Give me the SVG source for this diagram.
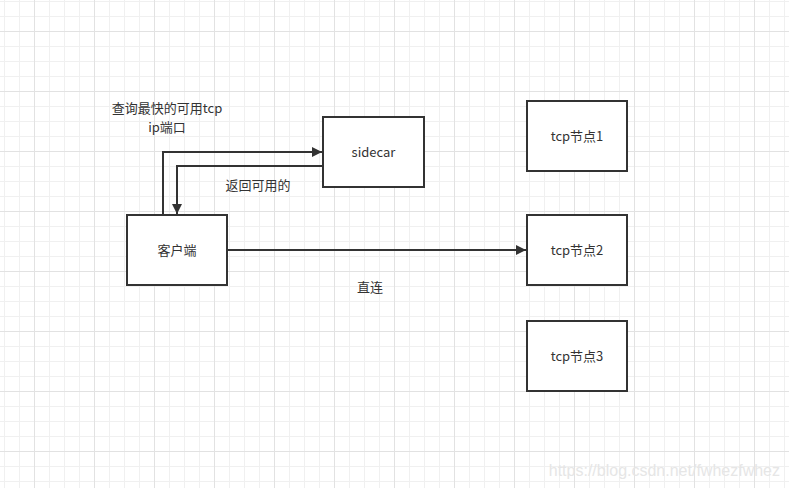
<svg xmlns="http://www.w3.org/2000/svg" width="789" height="488" viewBox="0 0 789 488">
<defs>
<pattern id="minor" x="4" y="1" width="15" height="15" patternUnits="userSpaceOnUse">
<path d="M0 0.5H15M0.5 0V15" fill="none" stroke="#f0f0f0" stroke-width="1"/>
</pattern>
<pattern id="major" x="34" y="31" width="60" height="60" patternUnits="userSpaceOnUse">
<path d="M0 0.5H60M0.5 0V60" fill="none" stroke="#e2e2e2" stroke-width="1"/>
</pattern>
<marker id="arr" viewBox="0 0 10 10" refX="10" refY="5" markerWidth="14" markerHeight="10" markerUnits="userSpaceOnUse" orient="auto">
<path d="M0 0L10 5L0 10Z" fill="#333"/>
</marker>
</defs>
<style>
.box{fill:#fff;stroke:#333;stroke-width:2}
.t{font-family:"Noto Sans CJK SC","Microsoft YaHei",sans-serif;font-size:13px;fill:#333;text-anchor:middle;dominant-baseline:central}
.e{fill:none;stroke:#333;stroke-width:2}
</style>
<rect width="789" height="488" fill="#fff"/>
<rect width="789" height="488" fill="url(#minor)"/>
<rect width="789" height="488" fill="url(#major)"/>
<g id="connectors">
<path class="e" d="M163 215V152H322" marker-end="url(#arr)"/>
<path class="e" d="M323 166H177V214" marker-end="url(#arr)"/>
<path class="e" d="M227 250H526" marker-end="url(#arr)"/>
<text class="t" x="167" y="107">查询最快的可用tcp</text>
<text class="t" x="167" y="126">ip端口</text>
<text class="t" x="258" y="184">返回可用的</text>
<text class="t" x="370" y="286">直连</text>
</g>
<g id="sidecar"><rect class="box" x="323" y="117" width="101" height="70"/><text class="t" x="373.5" y="151">sidecar</text></g>
<g id="client"><rect class="box" x="127" y="215" width="100" height="70"/><text class="t" x="177" y="249">客户端</text></g>
<g id="tcp1"><rect class="box" x="527" y="101" width="100" height="70"/><text class="t" x="577" y="135">tcp节点1</text></g>
<g id="tcp2"><rect class="box" x="527" y="215" width="100" height="70"/><text class="t" x="577" y="249">tcp节点2</text></g>
<g id="tcp3"><rect class="box" x="527" y="321" width="100" height="70"/><text class="t" x="577" y="355">tcp节点3</text></g>
<text x="780" y="476" font-family="Liberation Sans, Arial, sans-serif" font-size="16" fill="#e6e6e6" text-anchor="end">https://blog.csdn.net/fwhezfwhez</text>
</svg>
